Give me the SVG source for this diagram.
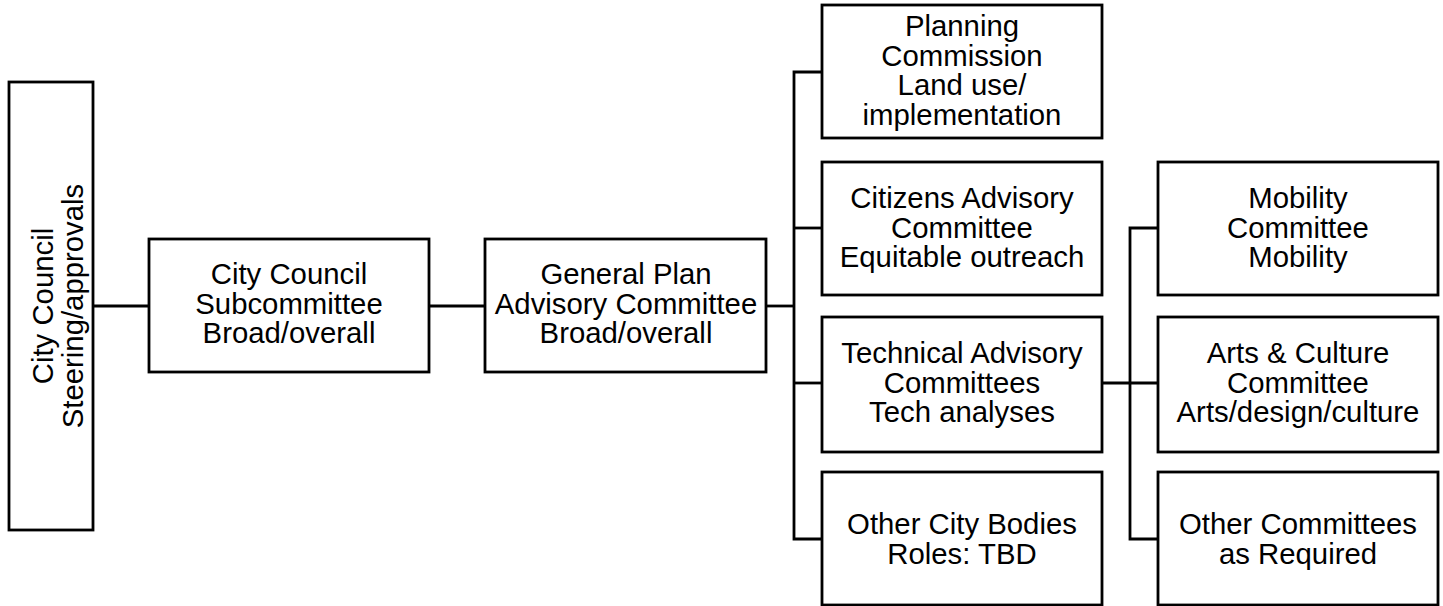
<svg xmlns="http://www.w3.org/2000/svg" width="1443" height="606" viewBox="0 0 1443 606">
<style>
.box{fill:#fff;stroke:#000;stroke-width:2.8}
.t{font-family:"Liberation Sans",Arial,sans-serif;font-size:29.33px;fill:#000;text-anchor:middle}
.c{fill:none;stroke:#000;stroke-width:2.8}
</style>
<rect width="1443" height="606" fill="#fff"/>
<g id="connectors">
<path class="c" d="M93 306H148"/>
<path class="c" d="M430 306H485"/>
<path class="c" d="M766 306H794"/>
<path class="c" d="M822 72H794V539H822"/>
<path class="c" d="M794 228H822"/>
<path class="c" d="M794 383H822"/>
<path class="c" d="M1102 383H1158"/>
<path class="c" d="M1158 228H1130V539H1158"/>
</g>
<g id="city-council">
<rect class="box" x="9" y="82" width="84" height="448"/>
<text class="t" transform="translate(53,306) rotate(-90)">City Council</text>
<text class="t" transform="translate(83,306) rotate(-90)">Steering/approvals</text>
</g>
<g id="subcommittee">
<rect class="box" x="149" y="239" width="280" height="133"/>
<text class="t" x="289" y="284">City Council</text>
<text class="t" x="289" y="313.5">Subcommittee</text>
<text class="t" x="289" y="343">Broad/overall</text>
</g>
<g id="gpac">
<rect class="box" x="485" y="239" width="281" height="133"/>
<text class="t" x="626" y="284">General Plan</text>
<text class="t" x="626" y="313.5">Advisory Committee</text>
<text class="t" x="626" y="343">Broad/overall</text>
</g>
<g id="planning-commission">
<rect class="box" x="822" y="5" width="280" height="133"/>
<text class="t" x="962" y="36">Planning</text>
<text class="t" x="962" y="65.5">Commission</text>
<text class="t" x="962" y="95">Land use/</text>
<text class="t" x="962" y="124.5">implementation</text>
</g>
<g id="citizens-advisory">
<rect class="box" x="822" y="162" width="280" height="133"/>
<text class="t" x="962" y="208">Citizens Advisory</text>
<text class="t" x="962" y="237.5">Committee</text>
<text class="t" x="962" y="267">Equitable outreach</text>
</g>
<g id="technical-advisory">
<rect class="box" x="822" y="317" width="280" height="135"/>
<text class="t" x="962" y="363">Technical Advisory</text>
<text class="t" x="962" y="392.5">Committees</text>
<text class="t" x="962" y="422">Tech analyses</text>
</g>
<g id="other-city-bodies">
<rect class="box" x="822" y="472" width="280" height="133"/>
<text class="t" x="962" y="534">Other City Bodies</text>
<text class="t" x="962" y="563.5">Roles: TBD</text>
</g>
<g id="mobility">
<rect class="box" x="1158" y="162" width="280" height="133"/>
<text class="t" x="1298" y="208">Mobility</text>
<text class="t" x="1298" y="237.5">Committee</text>
<text class="t" x="1298" y="267">Mobility</text>
</g>
<g id="arts-culture">
<rect class="box" x="1158" y="317" width="280" height="135"/>
<text class="t" x="1298" y="363">Arts &amp; Culture</text>
<text class="t" x="1298" y="392.5">Committee</text>
<text class="t" x="1298" y="422">Arts/design/culture</text>
</g>
<g id="other-committees">
<rect class="box" x="1158" y="472" width="280" height="133"/>
<text class="t" x="1298" y="534">Other Committees</text>
<text class="t" x="1298" y="563.5">as Required</text>
</g>
</svg>
